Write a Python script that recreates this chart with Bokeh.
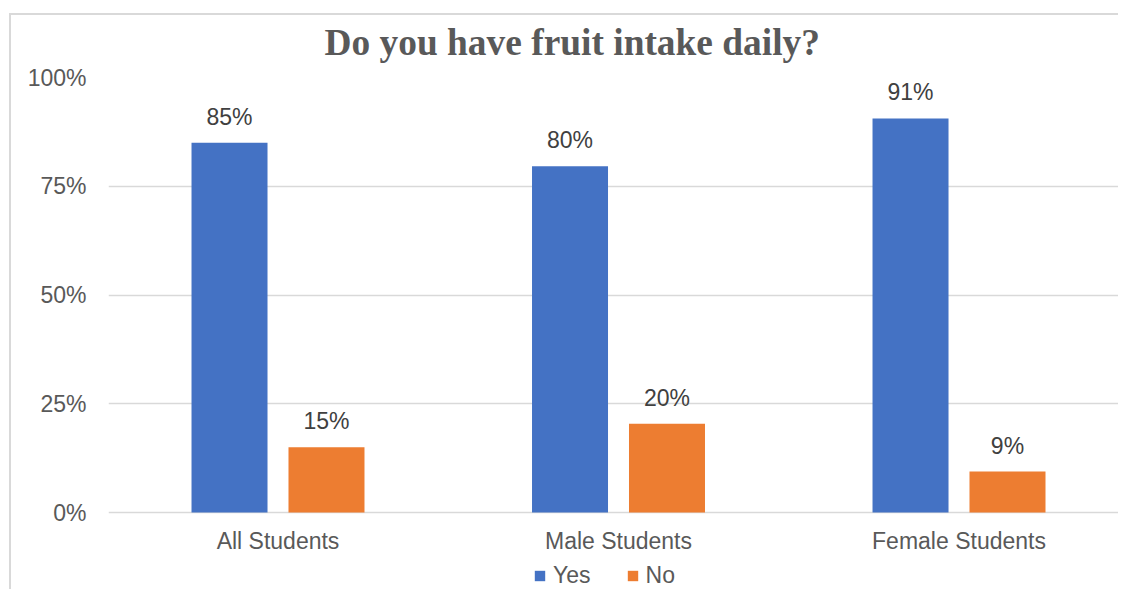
from bokeh.plotting import figure
from bokeh.models import (Range1d, FixedTicker, NumeralTickFormatter, Legend, LegendItem,
                          ColumnDataSource)
from bokeh.core.properties import value
from bokeh.embed import file_html
from bokeh.resources import INLINE

# ---- data ----
categories = ["All Students", "Male Students", "Female Students"]
series = ["Yes", "No"]
yes_values = [0.85, 0.796, 0.906]
no_values = [0.15, 0.204, 0.094]
y_ticks = [0, 0.25, 0.5, 0.75, 1.0]
title_text = "Do you have fruit intake daily?"

colors = {"Yes": "#4472C4", "No": "#ED7D31"}
GRID = "#D9D9D9"
TXT = "#595959"
LBL = "#404040"
FONT = "Liberation Sans"

# frame extends below zero so the category labels and legend sit inside it
p = figure(width=1110, height=585, output_backend="svg", toolbar_location=None,
           x_range=Range1d(-0.4978, 2.4684), y_range=Range1d(-0.177, 1.0),
           min_border_left=100, min_border_right=0, min_border_top=60,
           min_border_bottom=0)
# chart-area border (left and top edges; right/bottom lie outside the view)
p.styles = {
    "margin-left": "8px", "margin-top": "4px",
    "background": ("linear-gradient(#D9D9D9,#D9D9D9) 1px 9px / 2px calc(100% - 9px) no-repeat, "
                   "linear-gradient(#D9D9D9,#D9D9D9) 1px 9px / calc(100% - 1px) 2px no-repeat, "
                   "white"),
}
p.outline_line_color = None
p.background_fill_color = "white"
p.border_fill_color = None

# title
p.title.text = title_text
p.title.text_font = "Liberation Serif"
p.title.text_font_style = "bold"
p.title.text_font_size = "37.4px"
p.title.text_color = TXT
p.title.align = "left"
p.title.offset = 216
p.title.standoff = 30

# bars
idx = list(range(len(categories)))
offset = 0.1424
bw = 0.2232
src_yes = ColumnDataSource(dict(x=[i - offset for i in idx], top=yes_values,
                                lab=[f"{v*100:.0f}%" for v in yes_values]))
src_no = ColumnDataSource(dict(x=[i + offset for i in idx], top=no_values,
                               lab=[f"{v*100:.0f}%" for v in no_values]))
r_yes = p.vbar(x="x", top="top", width=bw, source=src_yes, fill_color=colors["Yes"],
               line_color=None)
r_no = p.vbar(x="x", top="top", width=bw, source=src_no, fill_color=colors["No"],
              line_color=None)
for s in (src_yes, src_no):
    p.text(x="x", y="top", text="lab", source=s, text_align="center",
           text_baseline="middle", y_offset=-26, text_font=value(FONT),
           text_font_size="23px", text_color=LBL)

# axes
p.xaxis.fixed_location = 0
p.xaxis.ticker = FixedTicker(ticks=idx)
p.xaxis.major_label_overrides = {i: c for i, c in enumerate(categories)}
p.yaxis.ticker = FixedTicker(ticks=y_ticks)
p.yaxis.formatter = NumeralTickFormatter(format="0%")
for ax in (p.xaxis, p.yaxis):
    ax.axis_label = None
    ax.axis_line_color = None
    ax.major_tick_line_color = None
    ax.minor_tick_line_color = None
    ax.major_label_text_font = FONT
    ax.major_label_text_font_size = "23px"
    ax.major_label_text_color = TXT
p.yaxis.major_label_standoff = 16
p.xaxis.major_label_standoff = 9

p.xgrid.grid_line_color = None
p.ygrid.grid_line_color = GRID
p.ygrid.grid_line_width = 1.3

legend = Legend(items=[LegendItem(label=series[0], renderers=[r_yes]),
                       LegendItem(label=series[1], renderers=[r_no])],
                location=(425, 0), orientation="horizontal",
                border_line_color=None, background_fill_alpha=0,
                padding=0, margin=0, spacing=35, label_standoff=7,
                glyph_width=13, glyph_height=13, label_height=23,
                label_text_font=FONT, label_text_font_size="23px",
                label_text_color=TXT)
p.add_layout(legend, "center")

open("out.html", "w").write(file_html(p, INLINE))
